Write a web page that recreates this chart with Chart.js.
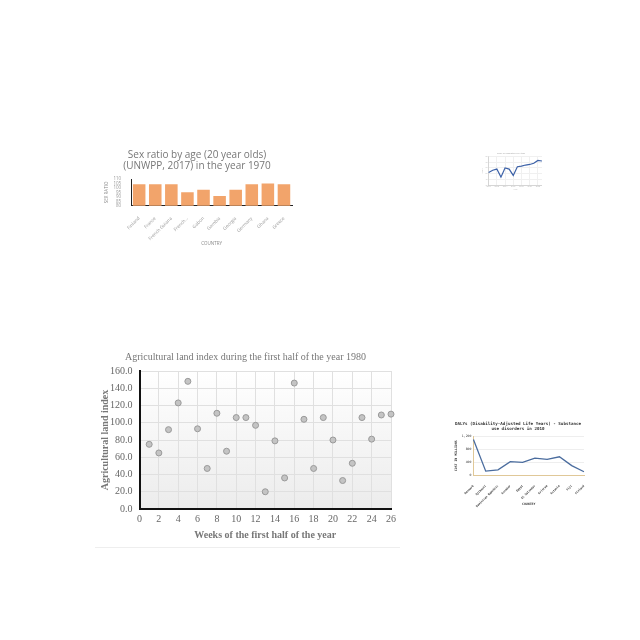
<!DOCTYPE html>
<html>
<head>
<meta charset="utf-8">
<script src="https://cdn.jsdelivr.net/npm/chart.js@4"></script>
<style>
  body { margin: 0; background: #fff; width: 640px; height: 640px; position: relative; overflow: hidden; }
  .box { position: absolute; }
  #main-box { left: 95px; top: 345px; width: 305px; height: 202px; border-bottom: 1px solid #eee; }
</style>
</head>
<body>
<div class="box" id="bar-box" style="left:100px;top:140px;width:200px;height:110px;"><canvas id="bar-chart" width="200" height="110"></canvas></div>
<div class="box" id="tiny-box" style="left:480px;top:150px;width:62px;height:42px;"><canvas id="tiny-chart" width="62" height="42"></canvas></div>
<div class="box" id="main-box"><canvas id="main-chart" width="305" height="196"></canvas></div>
<div class="box" id="daly-box" style="left:450px;top:415px;width:140px;height:95px;"><canvas id="daly-chart" width="140" height="95"></canvas></div>
<script>
// --- Data ---
// main scatter: agricultural land index per week
const weeks = [1, 2, 3, 4, 5, 6, 7, 8, 9, 10, 11, 12, 13, 14, 15, 16, 17, 18, 19, 20, 21, 22, 23, 24, 25, 26];
const landIndex = [75, 65, 92, 123, 148, 93, 47, 111, 67, 106, 106, 97, 20, 79, 36, 146, 104, 47, 106, 80, 33, 53, 106, 81, 109, 110];

// sex ratio bar chart
const countries = ['Finland', 'France', 'French Guiana', 'French...', 'Gabon', 'Gambia', 'Georgia', 'Germany', 'Ghana', 'Greece'];
const sexRatio = [104, 104, 104, 95, 98, 91, 98, 104, 105, 104];

// DALYs line chart
const dalyCountries = ['Denmark', 'Djibouti', 'Dominican Republic', 'Ecuador', 'Egypt', 'El Salvador', 'Eritrea', 'Estonia', 'Fiji', 'Finland'];
const dalyValues = [1100, 130, 170, 420, 400, 530, 490, 570, 300, 110];

// tiny line chart (top right)
const tinyYears = ['2000', '2001', '2002', '2003', '2004', '2005', '2006', '2007', '2008', '2009', '2010', '2011', '2012', '2013'];
const tinyValues = [52, 56, 58, 44, 60, 58, 47, 62, 63, 65, 66, 68, 73, 72];

// --- Plugins ---
const areaGradient = {
  id: 'areaGradient',
  beforeDraw(chart, args, opts) {
    if (!opts || !opts.top) return;
    const { ctx, chartArea } = chart;
    const g = ctx.createLinearGradient(0, chartArea.top, 0, chartArea.bottom);
    g.addColorStop(0, opts.top);
    g.addColorStop(1, opts.bottom);
    ctx.save();
    ctx.fillStyle = g;
    ctx.fillRect(chartArea.left, chartArea.top, chartArea.right - chartArea.left, chartArea.bottom - chartArea.top);
    ctx.restore();
  }
};

const serif = "'Liberation Serif', 'DejaVu Serif', serif";
const sans = "'Open Sans', sans-serif";

// --- Main scatter ---
new Chart(document.getElementById('main-chart'), {
  type: 'scatter',
  data: {
    datasets: [{
      data: weeks.map((w, i) => ({ x: w, y: landIndex[i] })),
      backgroundColor: '#c4c4c4',
      borderColor: '#9a9a9a',
      borderWidth: 1,
      pointRadius: 3,
      clip: false
    }]
  },
  options: {
    responsive: false,
    animation: false,
    layout: { padding: { top: 0, right: 8, left: 4, bottom: 0 } },
    plugins: {
      legend: { display: false },
      tooltip: { enabled: false },
      title: {
        display: true,
        text: 'Agricultural land index during the first half of the year 1980',
        color: '#777',
        font: { family: serif, size: 10, weight: 'normal' },
        padding: { top: 6, bottom: 8 }
      },
      areaGradient: { top: '#ffffff', bottom: '#ececec' }
    },
    scales: {
      x: {
        type: 'linear',
        min: 0, max: 26,
        ticks: { stepSize: 2, color: '#666', font: { family: serif, size: 10 }, padding: 4 },
        grid: { color: '#e0e0e0', drawTicks: false },
        border: { color: '#111', width: 2 },
        title: { display: true, text: 'Weeks of the first half of the year', color: '#777', font: { family: serif, size: 10, weight: 'bold' }, padding: { top: 0, bottom: 0 } }
      },
      y: {
        min: 0, max: 160,
        ticks: { stepSize: 20, color: '#666', font: { family: serif, size: 10 }, callback: v => v.toFixed(1), padding: 7 },
        grid: { color: '#e0e0e0', drawTicks: false },
        border: { color: '#111', width: 2 },
        title: { display: true, text: 'Agricultural land index', color: '#777', font: { family: serif, size: 10, weight: 'bold' }, padding: { top: 0, bottom: 0 } },
        afterFit(scale) { scale.width -= 8; }
      }
    }
  },
  plugins: [areaGradient]
});

// --- Sex ratio bar chart ---
new Chart(document.getElementById('bar-chart'), {
  type: 'bar',
  data: {
    labels: countries,
    datasets: [{ data: sexRatio, backgroundColor: '#f2a46b', barPercentage: 0.78, categoryPercentage: 1 }]
  },
  options: {
    responsive: false,
    animation: false,
    layout: { padding: { right: 8, left: 2 } },
    plugins: {
      legend: { display: false },
      tooltip: { enabled: false },
      title: {
        display: true,
        text: ['Sex ratio by age (20 year olds)', '(UNWPP, 2017) in the year 1970'],
        color: '#777',
        font: { family: sans, size: 10, weight: 'normal', lineHeight: 1.1 },
        padding: { top: 10, bottom: 7 }
      }
    },
    scales: {
      x: {
        ticks: { color: '#999', font: { family: sans, size: 4.6 }, maxRotation: 45, minRotation: 45, autoSkip: false, padding: 2 },
        grid: { display: false },
        border: { color: '#222', width: 1 },
        title: { display: true, text: 'COUNTRY', color: '#888', font: { family: sans, size: 4.5 }, padding: { top: 6, bottom: 4 } },
        afterFit(scale) { scale.height -= 9; }
      },
      y: {
        min: 80, max: 110,
        ticks: { stepSize: 5, color: '#999', font: { family: sans, size: 4.5 }, padding: 2, autoSkip: false },
        grid: { display: false },
        border: { color: '#222', width: 1 },
        title: { display: true, text: 'SEX RATIO', color: '#888', font: { family: sans, size: 4.5 }, padding: 2 }
      }
    }
  }
});

// --- Tiny line chart ---
new Chart(document.getElementById('tiny-chart'), {
  type: 'line',
  data: {
    labels: tinyYears,
    datasets: [{ data: tinyValues, borderColor: '#3d62a8', borderWidth: 1.2, pointRadius: 0, tension: 0 }]
  },
  options: {
    responsive: false,
    animation: false,
    plugins: {
      legend: { display: false },
      tooltip: { enabled: false },
      title: { display: true, text: 'Share of population over time', color: '#bbb', font: { size: 2 }, padding: 2 }
    },
    scales: {
      x: {
        ticks: { color: '#bbb', font: { size: 2 }, maxRotation: 0, padding: 0 },
        grid: { color: '#f0f0f0', drawTicks: false },
        border: { color: '#bbb', width: 0.5 },
        title: { display: true, text: 'Year', color: '#bbb', font: { size: 2 }, padding: 1 }
      },
      y: {
        min: 30, max: 80,
        ticks: { stepSize: 10, color: '#bbb', font: { size: 2 }, padding: 1 },
        grid: { color: '#f0f0f0', drawTicks: false },
        border: { color: '#bbb', width: 0.5 },
        title: { display: true, text: 'Share', color: '#bbb', font: { size: 2 }, padding: 1 }
      }
    }
  }
});

// --- DALYs line chart ---
const mono = "'DejaVu Sans Mono', 'Liberation Mono', monospace";
new Chart(document.getElementById('daly-chart'), {
  type: 'line',
  data: {
    labels: dalyCountries,
    datasets: [{ data: dalyValues, borderColor: '#4a6c9e', borderWidth: 1.3, pointRadius: 0, tension: 0 }]
  },
  options: {
    responsive: false,
    animation: false,
    layout: { padding: { right: 6, left: 2 } },
    plugins: {
      legend: { display: false },
      tooltip: { enabled: false },
      title: {
        display: true,
        text: ['DALYs (Disability-Adjusted Life Years) - Substance', 'use disorders in 2010'],
        color: '#333',
        font: { family: mono, size: 4.2, weight: 'bold', lineHeight: 1.1 },
        padding: { top: 7, bottom: 5 }
      }
    },
    scales: {
      x: {
        ticks: { color: '#333', font: { family: mono, size: 2.8, weight: 'bold' }, maxRotation: 45, minRotation: 45, autoSkip: false, padding: 1 },
        grid: { display: false },
        border: { color: '#e0c898', width: 1 },
        title: { display: true, text: 'COUNTRY', color: '#333', font: { family: mono, size: 3.2, weight: 'bold' }, padding: { top: 1, bottom: 4 } },
        afterFit(scale) { scale.height -= 8; }
      },
      y: {
        min: 0, max: 1200,
        ticks: { stepSize: 200, color: '#333', font: { family: mono, size: 3.2 }, padding: 2 },
        grid: { color: '#eeeeee', drawTicks: false },
        border: { color: '#e0c898', width: 1 },
        title: { display: true, text: 'COST IN MILLIONS', color: '#333', font: { family: mono, size: 3.2, weight: 'bold' }, padding: 2 }
      }
    }
  },
  plugins: [areaGradient]
});
</script>
</body>
</html>
